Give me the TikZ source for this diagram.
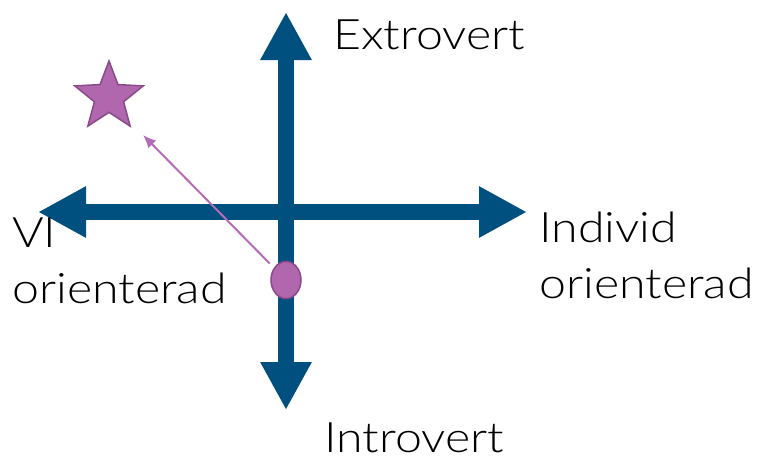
\documentclass[tikz,border=0pt]{standalone}
\usepackage{fontspec}
\setmainfont{Lato Light}[FakeStretch=1.15]
\usetikzlibrary{arrows.meta, shapes.geometric, positioning}

\definecolor{axisblue}{HTML}{00507F}
\definecolor{dotfill}{HTML}{B067AE}
\definecolor{dotline}{HTML}{8A4A8A}
\definecolor{pointer}{HTML}{B36CB5}

\tikzset{
    axisarrow/.style={line width=16pt, axisblue,
        {Triangle[length=48pt,width=48pt]}-{Triangle[length=48pt,width=48pt]}},
    axislabel/.style={font=\fontsize{42}{56}\selectfont, inner sep=0pt, align=left},
    dot/.style={ellipse, draw=dotline, fill=dotfill, line width=1.5pt,
        minimum width=30pt, minimum height=37pt, inner sep=0pt},
    target/.style={star, star points=5, star point ratio=2.35, draw=dotline,
        fill=dotfill, line width=1.5pt, minimum size=72pt, inner sep=0pt}
}

\begin{document}
\begin{tikzpicture}[x=1pt, y=-1pt]
    \useasboundingbox (0,0) rectangle (766,459);

    % Axis ends
    \coordinate (up) at (286,12);
    \coordinate (down) at (286,410);
    \coordinate (left) at (38,212);
    \coordinate (right) at (527,212);

    % Axes
    \draw[axisarrow] (down) -- (up);
    \draw[axisarrow] (left) -- (right);

    % Labels
    \node[axislabel, anchor=base west] (extro) at (333,49) {Extrovert};
    \node[axislabel, anchor=base west] (intro) at (324,452) {Introvert};
    \node[axislabel, anchor=north west] (indiv) at (539,212) {Individ\\orienterad};
    \node[axislabel, anchor=north west] (vi) at (12,218) {VI\\orienterad};

    % Current position and goal
    \node[dot] (now) at (286,280) {};
    \node[target] (goal) at (109,97) {};
    \coordinate (aim) at (143,135);
    \draw[pointer, line width=2pt, -{Latex[length=13pt,width=11pt]}, shorten <=6pt] (now) -- (aim);
\end{tikzpicture}
\end{document}
